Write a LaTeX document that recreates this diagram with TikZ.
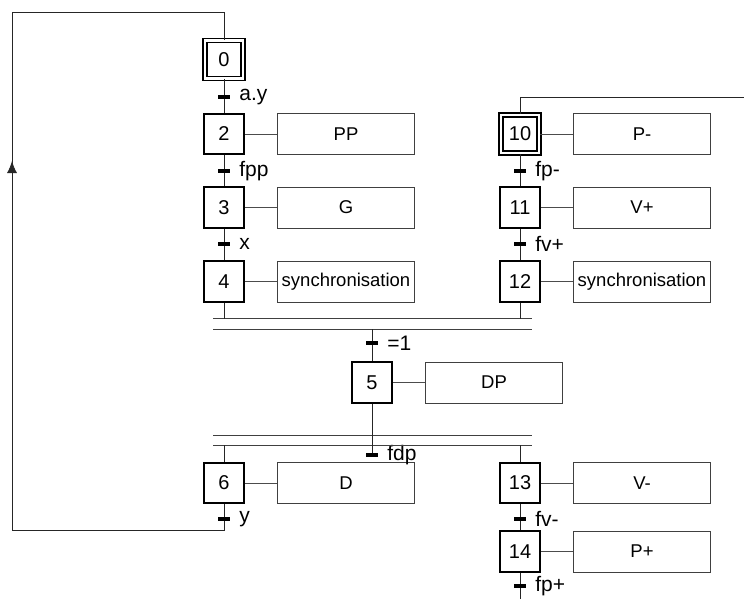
\documentclass[tikz,border=0pt]{standalone}
\usepackage{fontspec}
\setmainfont{Liberation Sans}
\usetikzlibrary{arrows.meta, positioning}

\begin{document}
\begin{tikzpicture}[
  x=1pt, y=-1pt,
  >=Latex,
  etape/.style={
    draw, minimum size=40.5pt, inner sep=0pt, line width=2pt,
    font=\fontsize{20}{22}\selectfont
  },
  etapeinit/.style={etape, double, double distance=2.2pt,
                    line width=1.7pt, minimum size=38pt},
  action/.style={draw=black!75, fill=white, line width=0.9pt,
                 minimum width=137pt, minimum height=41pt, inner sep=0pt,
                 font=\fontsize{18.5}{20}\selectfont},
  trans/.style={fill, minimum width=12pt, minimum height=4pt, inner sep=0pt},
  every label/.style={font=\fontsize{21}{23}\selectfont, inner sep=2pt},
  label distance=7pt,
  lien/.style={draw=black!85, line width=0.9pt},
  sync/.style={draw=black!75, line width=1pt}
]
\useasboundingbox (0,0) rectangle (744,599);

%--- Etapes ---
\node[etapeinit] (e0)  at (224, 59.5) {0};
\node[etape]     (e2)  at (224,134)   {2};
\node[etape]     (e3)  at (224,207.5) {3};
\node[etape]     (e4)  at (224,281.5) {4};

\node[etapeinit] (e10) at (520,134)   {10};
\node[etape]     (e11) at (520,207.5) {11};
\node[etape]     (e12) at (520,281.5) {12};

\node[etape]     (e5)  at (372,382.5) {5};

\node[etape]     (e6)  at (224,483)   {6};
\node[etape]     (e13) at (520,483)   {13};
\node[etape]     (e14) at (520,551.5) {14};

%--- Actions ---
\node[action] (a2)  at (346,134)   {PP};
\node[action] (a3)  at (346,207.5) {G};
\node[action] (a4)  at (346,281.5) {synchronisation};
\node[action] (a10) at (642,134)   {P-};
\node[action] (a11) at (642,207.5) {V+};
\node[action] (a12) at (642,281.5) {synchronisation};
\node[action] (a5)  at (494,382.5) {DP};
\node[action] (a6)  at (346,483)   {D};
\node[action] (a13) at (642,483)   {V-};
\node[action] (a14) at (642,551.5) {P+};

\foreach \e/\a in {e2/a2, e3/a3, e4/a4, e10/a10, e11/a11, e12/a12,
                   e5/a5, e6/a6, e13/a13, e14/a14}
  \draw[lien, draw=black!70] (\e) -- (\a);

%--- Transitions ---
\node[trans, label=right:{a.y}] (t0)  at (224,97)  {};
\node[trans, label=right:{fpp}] (t2)  at (224,171) {};
\node[trans, label=right:{x}]   (t3)  at (224,244) {};
\node[trans, label=right:{fp-}] (t10) at (520,171) {};
\node[trans, label=right:{fv+}] (t11) at (520,244) {};
\node[trans, label=right:{=1}]  (t4)  at (372,343) {};
\node[trans, label=right:{fdp}] (t5)  at (372,455) {};
\node[trans, label=right:{y}]   (t6)  at (224,519) {};
\node[trans, label=right:{fv-}] (t13) at (520,519) {};
\node[trans, label=right:{fp+}] (t14) at (520,586) {};

%--- Double traits (ET) ---
\coordinate (s1a) at (213,318.5); \coordinate (s1b) at (532,318.5);
\coordinate (s2a) at (213,329);   \coordinate (s2b) at (532,329);
\coordinate (d1a) at (213,435);   \coordinate (d1b) at (532,435);
\coordinate (d2a) at (213,445);   \coordinate (d2b) at (532,445);
\draw[sync] (s1a) -- (s1b);
\draw[sync] (s2a) -- (s2b);
\draw[sync] (d1a) -- (d1b);
\draw[sync] (d2a) -- (d2b);

%--- Liaisons ---
\draw[lien] (e0) -- (t0) -- (e2) -- (t2) -- (e3) -- (t3) -- (e4);
\draw[lien] (e10) -- (t10) -- (e11) -- (t11) -- (e12);
\draw[lien] (e4) -- (e4 |- s1a);
\draw[lien] (e12) -- (e12 |- s1a);
\draw[lien] (e5 |- s2a) -- (t4) -- (e5);
\draw[lien] (e5) -- (t5) -- (t5 |- d1a);
\draw[lien] (e6 |- d2a) -- (e6);
\draw[lien] (e13 |- d2a) -- (e13);
\draw[lien] (e13) -- (t13) -- (e14);

% retour vers l'etape initiale 0
\coordinate (b6) at (224,530);
\coordinate (bg) at (12,530);
\coordinate (hg) at (12,12);
\coordinate (hd) at (224,12);
\coordinate (fl) at (12,161);
\draw[lien] (e6) -- (t6) -- (b6) -- (bg) -- (hg) -- (hd) -- (e0);
\draw[lien, -{Latex[length=12pt, width=10pt]}] (bg) -- (fl);

% sorties hors cadre
\coordinate (r10) at (744,97);
\coordinate (b14) at (520,599);
\draw[lien] (e10) -- (e10 |- r10) -- (r10);
\draw[lien] (e14) -- (t14) -- (b14);

\end{tikzpicture}
\end{document}
